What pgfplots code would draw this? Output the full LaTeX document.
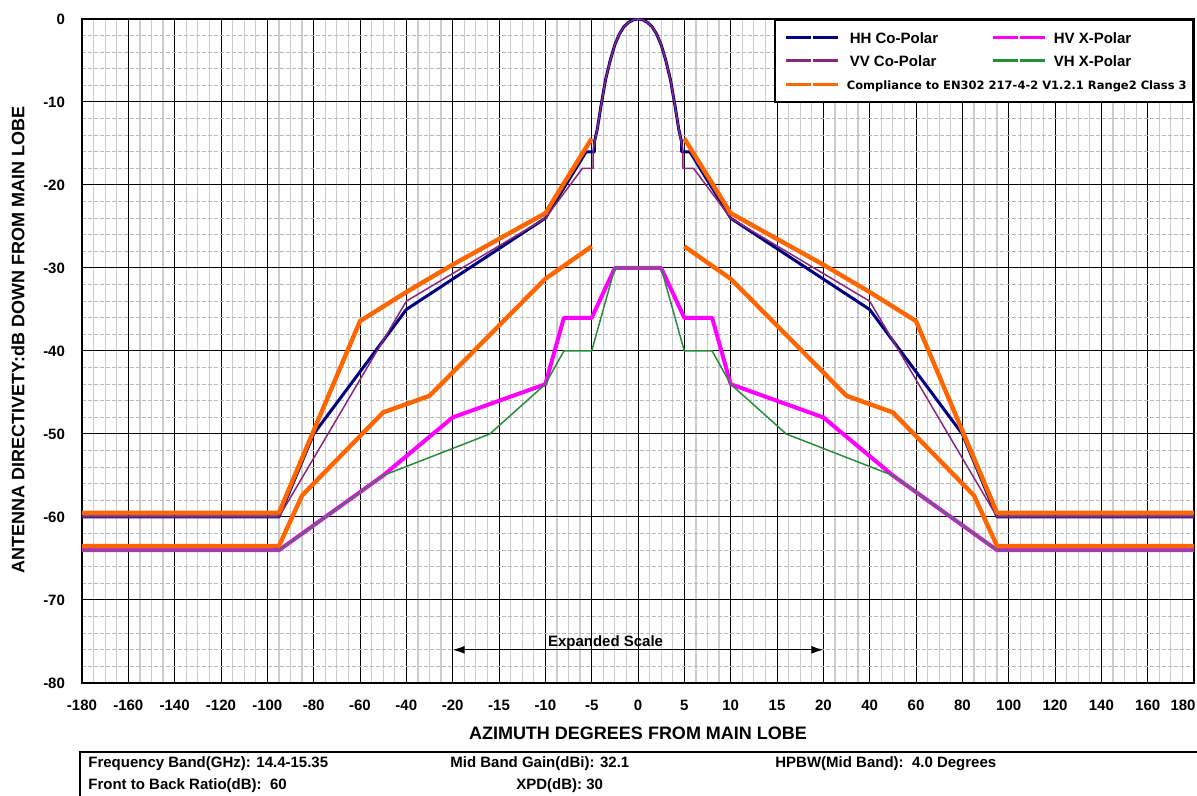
\documentclass[border=0pt]{standalone}
\usepackage{pgfplots}
\pgfplotsset{compat=1.18}
\usepackage{fontspec}
\setmainfont{Liberation Sans}
\newfontfamily\dejavu{DejaVu Sans}
\usetikzlibrary{arrows.meta}

\definecolor{hhcol}{RGB}{0,0,128}
\definecolor{vvcol}{RGB}{135,40,125}
\definecolor{hvcol}{RGB}{255,0,255}
\definecolor{vhcol}{RGB}{40,140,60}
\definecolor{mask}{RGB}{255,102,0}

\begin{document}
\begin{tikzpicture}
\begin{axis}[
  scale only axis, width=556pt, height=332pt,
  xmin=-180, xmax=180, ymin=-80, ymax=0,
  % expanded scale: 5 deg per division within +-20, 20 deg per division outside
  x coord trafo/.code={\pgfmathparse{abs(#1)<20 ? #1/5 : (#1<0 ? (#1+20)/20-4 : (#1-20)/20+4)}},
  xtick={-180,-160,-140,-120,-100,-80,-60,-40,-20,-15,-10,-5,0,5,10,15,20,40,60,80,100,120,140,160,180},
  xticklabels={-180,-160,-140,-120,-100,-80,-60,-40,-20,-15,-10,-5,0,5,10,15,20,40,60,80,100,120,140,160,\hspace*{-11pt}180},
  ytick={-80,-70,-60,-50,-40,-30,-20,-10,0},
  yticklabels={-80,-70,-60,-50,-40,-30,-20,-10,0},
  minor x tick num=3, minor y tick num=4,
  grid=both,
  major grid style={black, line width=0.5pt},
  minor x grid style={gray!40, line width=0.6pt},
  minor y grid style={gray!55, line width=0.5pt, dash pattern=on 2pt off 1pt},
  tick style={draw=none},
  axis line style={black, line width=0.8pt},
  tick label style={font=\fontsize{7.5}{9}\selectfont\bfseries},
  xticklabel style={yshift=-5pt},
  yticklabel style={xshift=-5pt},
  xlabel={AZIMUTH DEGREES FROM MAIN LOBE},
  ylabel={ANTENNA DIRECTIVETY:dB DOWN FROM MAIN LOBE},
  label style={font=\fontsize{9}{11}\selectfont\bfseries},
  xlabel style={at={(axis description cs:0.5,0)}, anchor=center, yshift=-25pt},
  ylabel style={at={(axis description cs:0,0.5)}, anchor=center, xshift=5.5pt, yshift=32pt},
  every axis plot/.append style={line join=round},
]
\addplot[hhcol, line width=1.5pt] coordinates {
(-180,-60) (-95,-60) (-80,-50) (-40,-35) (-10,-24) (-5.6,-16) (-4.7,-16) (-4.7,-14.8) (-4.4,-13.3) (-4,-10.5) (-3.5,-7.3) (-3,-5) (-2.5,-3.1) (-2,-1.8) (-1.5,-0.9) (-1,-0.4) (-0.5,-0.1) (0,0) (0.5,-0.1) (1,-0.4) (1.5,-0.9) (2,-1.8) (2.5,-3.1) (3,-5) (3.5,-7.3) (4,-10.5) (4.4,-13.3) (4.7,-14.8) (4.7,-16) (5.6,-16) (10,-24) (40,-35) (80,-50) (95,-60) (180,-60)};
\addplot[hvcol, line width=2pt] coordinates {
(-180,-64) (-95,-64) (-50,-55) (-20,-48) (-10,-44) (-8,-36) (-5,-36) (-2.5,-30) (2.5,-30) (5,-36) (8,-36) (10,-44) (20,-48) (50,-55) (95,-64) (180,-64)};
\addplot[vvcol, line width=0.75pt] coordinates {
(-180,-60) (-95,-60) (-40,-34) (-10,-24) (-6,-18) (-4.85,-18) (-4.85,-15.8) (-4.4,-13.3) (-4,-10.5) (-3.5,-7.3) (-3,-5) (-2.5,-3.1) (-2,-1.8) (-1.5,-0.9) (-1,-0.4) (-0.5,-0.1) (0,0) (0.5,-0.1) (1,-0.4) (1.5,-0.9) (2,-1.8) (2.5,-3.1) (3,-5) (3.5,-7.3) (4,-10.5) (4.4,-13.3) (4.85,-15.8) (4.85,-18) (6,-18) (10,-24) (40,-34) (95,-60) (180,-60)};
\addplot[vhcol, line width=0.75pt] coordinates {
(-180,-64) (-95,-64) (-50,-55) (-16,-50) (-10,-44) (-8,-40) (-5,-40) (-2.5,-30) (2.5,-30) (5,-40) (8,-40) (10,-44) (16,-50) (50,-55) (95,-64) (180,-64)};
% compliance masks (upper and lower), left and right halves
\addplot[mask, line width=2.2pt] coordinates {
(-180,-59.5) (-95,-59.5) (-60,-36.4) (-40,-32.9) (-20,-29.6) (-10,-23.4) (-5,-14.4)};
\addplot[mask, line width=2.2pt] coordinates {
(5,-14.4) (10,-23.4) (20,-29.6) (40,-32.9) (60,-36.4) (95,-59.5) (180,-59.5)};
\addplot[mask, line width=2.2pt] coordinates {
(-180,-63.5) (-95,-63.5) (-85,-57.4) (-50,-47.4) (-30,-45.4) (-10,-31.3) (-5,-27.4)};
\addplot[mask, line width=2.2pt] coordinates {
(5,-27.4) (10,-31.3) (30,-45.4) (50,-47.4) (85,-57.4) (95,-63.5) (180,-63.5)};
\draw[{Latex[length=6pt,width=4pt]}-{Latex[length=6pt,width=4pt]}, line width=0.6pt] (axis cs:-20,-76) -- (axis cs:20,-76);
\node[anchor=base, font=\fontsize{7.5}{9}\selectfont\bfseries, yshift=1.5pt] at (axis cs:-3.5,-76) {Expanded Scale};
\end{axis}
\pgfresetboundingbox
\path[use as bounding box] ([xshift=-41pt,yshift=-56.5pt]current axis.south west) rectangle ([xshift=1.5pt,yshift=9.5pt]current axis.north east);
% legend box
\node[draw=black, line width=0.8pt, fill=white, anchor=north east, minimum width=209pt, minimum height=41pt, inner sep=0pt] (leg) at (current axis.north east) {};
\begin{scope}[shift={(leg.north west)}, every node/.style={anchor=base west, inner sep=0pt, font=\fontsize{7.5}{9}\selectfont\bfseries}]
\foreach \c/\w/\x/\y in {hhcol/1.5pt/6pt/9.5pt, vvcol/1.5pt/6pt/21pt, mask/1.5pt/6pt/33pt, hvcol/1.5pt/109.5pt/9.5pt, vhcol/1.5pt/109.5pt/21pt}{
  \draw[\c, line width=\w] (\x,-\y) -- ++(12.5pt,0pt);
  \draw[\c, line width=\w] ([xshift=13.5pt]\x,-\y) -- ++(12.5pt,0pt);
}
\node at (37.5pt,-12.2pt) {HH Co-Polar};
\node at (37.5pt,-23.7pt) {VV Co-Polar};
\node at (139.5pt,-12.2pt) {HV X-Polar};
\node at (139.5pt,-23.7pt) {VH X-Polar};
\node[font=\dejavu\bfseries\fontsize{5.75}{6.5}\selectfont] at (36pt,-35.1pt) {Compliance to EN302 217-4-2 V1.2.1 Range2 Class 3};
\end{scope}
\draw[line width=0.6pt] ([xshift=-1pt,yshift=-57pt]current axis.south west) |- ([xshift=2pt,yshift=-34.5pt]current axis.south east);
\begin{scope}[every node/.style={anchor=west, inner sep=0pt, font=\fontsize{7.5}{9}\selectfont\bfseries}]
\node at ([xshift=3pt,yshift=-40.5pt]current axis.south west) {Frequency Band(GHz): 14.4-15.35};
\node at ([xshift=184pt,yshift=-40.5pt]current axis.south west) {Mid Band Gain(dBi): 32.1};
\node at ([xshift=346.5pt,yshift=-40.5pt]current axis.south west) {HPBW(Mid Band):\ \ 4.0 Degrees};
\node at ([xshift=3pt,yshift=-51.5pt]current axis.south west) {Front to Back Ratio(dB):\ \ 60};
\node at ([xshift=217pt,yshift=-51.5pt]current axis.south west) {XPD(dB): 30};
\end{scope}
\end{tikzpicture}
\end{document}
